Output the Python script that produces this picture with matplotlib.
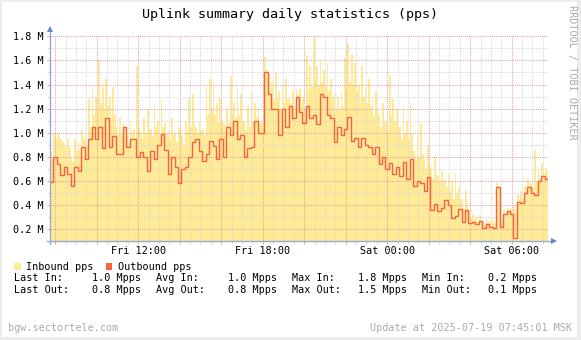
import numpy as np
import matplotlib
matplotlib.use("Agg")
import matplotlib.pyplot as plt
from matplotlib.patches import Rectangle
from matplotlib.ticker import FixedLocator, MultipleLocator, FuncFormatter

W, H, DPI = 581, 340, 100
MONO = "DejaVu Sans Mono"

# window starts Fri 07:45 MSK, values in Mpps
# inbound: 5-minute samples
inbound = [
    0.84, 0.78, 1.00, 0.95, 1.00, 0.97, 0.95, 0.92, 0.90, 0.82,
    0.95, 0.88, 0.80, 0.76, 0.95, 0.85, 0.92, 0.86, 1.02, 0.95,
    0.98, 0.90, 1.28, 1.05, 1.40, 1.15, 1.30, 1.18, 1.60, 1.25,
    1.38, 1.20, 1.45, 1.22, 1.30, 1.12, 1.38, 1.15, 1.05, 0.98,
    1.12, 1.00, 1.08, 1.06, 0.98, 0.92, 1.10, 1.00, 1.02, 0.96,
    1.55, 1.05, 1.00, 0.95, 1.12, 1.00, 1.20, 1.02, 1.03, 0.97,
    1.22, 1.05, 1.10, 1.00, 1.28, 1.05, 1.08, 1.00, 1.02, 0.94,
    1.12, 1.00, 1.00, 0.92, 1.05, 0.95, 0.98, 0.90, 1.10, 1.00,
    1.30, 1.05, 1.32, 1.10, 1.05, 1.00, 1.10, 1.02, 1.03, 0.98,
    1.38, 1.15, 1.45, 1.20, 1.42, 1.15, 1.25, 1.08, 1.30, 1.10,
    1.08, 1.02, 1.20, 1.08, 1.47, 1.15, 1.25, 1.12, 1.37, 1.15,
    1.32, 1.10, 1.10, 1.02, 1.22, 1.05, 1.33, 1.10, 1.25, 1.12,
    1.20, 1.08, 1.10, 1.02, 1.63, 1.52, 1.48, 1.35, 1.42, 1.28,
    1.50, 1.30, 1.35, 1.20, 1.40, 1.25, 1.45, 1.28, 1.30, 1.25,
    1.35, 1.22, 1.36, 1.32, 1.36, 1.22, 1.30, 1.20, 1.64, 1.35,
    1.55, 1.38, 1.80, 1.45, 1.55, 1.40, 1.60, 1.42, 1.52, 1.38,
    1.58, 1.35, 1.45, 1.30, 1.33, 1.20, 1.30, 1.18, 1.35, 1.22,
    1.62, 1.35, 1.74, 1.42, 1.65, 1.40, 1.58, 1.35, 1.40, 1.25,
    1.55, 1.30, 1.38, 1.25, 1.45, 1.22, 1.30, 1.15, 1.35, 1.18,
    1.15, 1.05, 1.25, 1.10, 1.10, 1.00, 1.47, 1.15, 1.28, 1.10,
    1.20, 1.05, 1.05, 0.95, 1.22, 1.00, 1.10, 0.95, 1.25, 1.00,
    0.85, 0.78, 0.98, 0.80, 1.08, 0.82, 0.78, 0.70, 0.90, 0.75,
    0.72, 0.62, 0.80, 0.65, 0.65, 0.58, 0.68, 0.60, 0.62, 0.55,
    0.66, 0.52, 0.60, 0.45, 0.67, 0.50, 0.55, 0.45, 0.45, 0.38,
    0.52, 0.40, 0.36, 0.30, 0.33, 0.28, 0.30, 0.27, 0.32, 0.27,
    0.27, 0.24, 0.30, 0.26, 0.27, 0.25, 0.29, 0.25, 0.58, 0.56,
    0.30, 0.27, 0.36, 0.34, 0.38, 0.36, 0.38, 0.33, 0.40, 0.35,
    0.48, 0.44, 0.52, 0.45, 0.56, 0.52, 0.62, 0.57, 0.58, 0.55,
    0.86, 0.60, 0.70, 0.62, 0.75, 0.65, 0.72, 0.68,
]
# outbound: 10-minute samples
outbound = [
    0.59, 0.80, 0.74, 0.65, 0.72, 0.66, 0.56, 0.72, 0.68, 0.88,
    0.78, 0.95, 1.05, 0.95, 1.05, 0.87, 1.12, 0.88, 0.97, 0.82,
    0.82, 1.05, 0.88, 0.95, 0.95, 0.80, 0.84, 0.80, 0.68, 0.85,
    0.78, 0.90, 0.99, 0.86, 0.66, 0.80, 0.72, 0.58, 0.70, 0.72,
    0.80, 0.92, 0.95, 0.85, 0.77, 0.82, 0.93, 0.89, 0.78, 0.95,
    0.80, 1.05, 0.98, 1.10, 0.95, 0.98, 0.80, 0.87, 0.88, 1.10,
    1.00, 1.00, 1.50, 1.32, 1.20, 1.20, 0.98, 1.20, 1.05, 1.22,
    1.12, 1.30, 1.17, 1.08, 1.22, 1.12, 1.15, 1.07, 1.32, 1.30,
    1.15, 1.12, 0.92, 1.05, 0.98, 1.03, 1.13, 0.93, 0.96, 0.88,
    0.96, 0.90, 0.88, 0.82, 0.88, 0.74, 0.80, 0.70, 0.75, 0.66,
    0.72, 0.64, 0.76, 0.62, 0.78, 0.56, 0.60, 0.58, 0.52, 0.63,
    0.36, 0.41, 0.35, 0.38, 0.44, 0.40, 0.29, 0.31, 0.37, 0.26,
    0.36, 0.25, 0.26, 0.24, 0.27, 0.21, 0.24, 0.22, 0.21, 0.55,
    0.22, 0.33, 0.35, 0.33, 0.13, 0.43, 0.42, 0.50, 0.55, 0.50,
    0.48, 0.60, 0.64, 0.62,
]
in_step_min = 5
out_step_min = 10

x_label_text = ["Fri 12:00", "Fri 18:00", "Sat 00:00", "Sat 06:00"]
x_label_hours = [4.25, 10.25, 16.25, 22.25]   # hours after window start
y_ticks = [0.2, 0.4, 0.6, 0.8, 1.0, 1.2, 1.4, 1.6, 1.8]

legend_names = ["Inbound pps", "Outbound pps"]
stat_names_in = ["Last In:", "Avg In:", "Max In:", "Min In:"]
stat_vals_in = ["1.0 Mpps", "1.0 Mpps", "1.8 Mpps", "0.2 Mpps"]
stat_names_out = ["Last Out:", "Avg Out:", "Max Out:", "Min Out:"]
stat_vals_out = ["0.8 Mpps", "0.8 Mpps", "1.5 Mpps", "0.1 Mpps"]

IN_COLOR = "#FFEA96"
OUT_COLOR = "#F8623E"
MGRID = "#E9A3A3"
GRID = "#D9D9D9"
AXIS = "#93ACD0"
ARROW = "#5F86C8"
FAINT = "#ABABAB"


def fx(px):
    return px / W


def fy(py):
    return 1 - py / H


fig = plt.figure(figsize=(W / DPI, H / DPI), dpi=DPI, facecolor="white")

# frame round the image
for x0, y0, w, h in [(0, 0, W, 2), (0, 0, 2, H), (W - 4, 0, 4, H), (0, H - 3, W, 3)]:
    fig.patches.append(Rectangle((fx(x0), fy(y0 + h)), w / W, h / H,
                                 transform=fig.transFigure, color="#ECECEC", lw=0))

ax = fig.add_axes([fx(50), fy(241.3), 498 / W, (241.3 - 36.3) / H])
ax.set_facecolor("white")
ax.set_xlim(0, 24)
ax.set_ylim(0.1, 1.8)

in_edges = np.arange(len(inbound) + 1) * in_step_min / 60
out_edges = np.arange(len(outbound) + 1) * out_step_min / 60
ax.stairs(inbound, in_edges, baseline=0.1, fill=True, color=IN_COLOR, lw=0, zorder=1)
ax.stairs(outbound, out_edges, baseline=None, color=OUT_COLOR, lw=1.0, zorder=3)

# grid: red every 2 h / 0.2 M, grey every 30 min / 0.1 M
major_x = np.arange(0.25, 24, 2)
minor_x = np.arange(0.25, 24, 0.5)
ax.xaxis.set_major_locator(FixedLocator(major_x))
ax.xaxis.set_minor_locator(FixedLocator(minor_x))
ax.xaxis.set_major_formatter(FuncFormatter(
    lambda v, p: x_label_text[x_label_hours.index(round(v, 2))]
    if round(v, 2) in x_label_hours else ""))
ax.yaxis.set_major_locator(FixedLocator(y_ticks))
ax.yaxis.set_minor_locator(MultipleLocator(0.1))
ax.yaxis.set_major_formatter(FuncFormatter(lambda v, p: f"{v:.1f} M"))

ax.set_axisbelow(False)
ax.grid(which="major", color=MGRID, lw=0.75, ls=(0, (1, 1)), zorder=2)
ax.grid(which="minor", color=GRID, lw=0.75, ls=(0, (1, 1)), zorder=2)

ax.tick_params(which="both", length=2.2, width=0.75)
ax.tick_params(axis="x", which="major", color=MGRID, pad=1.5)
ax.tick_params(axis="x", which="minor", color=GRID)
ax.tick_params(axis="y", which="major", color=MGRID, pad=2.5)
ax.tick_params(axis="y", which="minor", color=GRID)
for lab in ax.get_xticklabels() + ax.get_yticklabels():
    lab.set_fontfamily(MONO)
    lab.set_fontsize(7.3)

for s in ax.spines.values():
    s.set_visible(False)

# axes with arrow heads
ax.plot([0, 0], [0.08, 1.85], color=AXIS, lw=1, clip_on=False, zorder=4)
ax.plot([0], [1.86], marker="^", ms=5, color=ARROW, mew=0, clip_on=False, zorder=5)
ax.plot([-0.15, 24.2], [0.1, 0.1], color=AXIS, lw=1, clip_on=False, zorder=4)
ax.plot([24.3], [0.1], marker=">", ms=5, color=ARROW, mew=0, clip_on=False, zorder=5)

# title and side credit
fig.text(fx(290), fy(18), "Uplink summary daily statistics (pps)", ha="center",
         va="baseline", fontfamily=MONO, fontsize=9.6)
fig.text(fx(572), fy(5), "RRDTOOL / TOBI OETIKER", rotation=270, ha="center",
         va="top", fontfamily=MONO, fontsize=7.3, color=FAINT)

# legend
for (sx, tx), name, col in zip([(14, 26.5), (105.5, 118)], legend_names,
                               [IN_COLOR, OUT_COLOR]):
    fig.patches.append(Rectangle((fx(sx), fy(270)), 6.5 / W, 7 / H,
                                 transform=fig.transFigure, color=col, lw=0))
    fig.text(fx(tx), fy(270), name, va="baseline", fontfamily=MONO, fontsize=7.3)

# summary rows
name_x = [14, 156, 292, 421.5]
val_x = [141.5, 277.5, 407.5, 537.5]
for base, names, vals in [(280.8, stat_names_in, stat_vals_in),
                          (293, stat_names_out, stat_vals_out)]:
    for nx, vx, n, v in zip(name_x, val_x, names, vals):
        fig.text(fx(nx), fy(base), n, va="baseline", fontfamily=MONO, fontsize=7.3)
        fig.text(fx(vx), fy(base), v, ha="right", va="baseline", fontfamily=MONO,
                 fontsize=7.3)

# footer
fig.text(fx(8), fy(331.3), "bgw.sectortele.com", va="baseline", fontfamily=MONO,
         fontsize=7.3, color=FAINT)
fig.text(fx(572), fy(331.3), "Update at 2025-07-19 07:45:01 MSK", ha="right",
         va="baseline", fontfamily=MONO, fontsize=7.3, color=FAINT)

fig.savefig("out.png", dpi=DPI, facecolor=fig.get_facecolor())
